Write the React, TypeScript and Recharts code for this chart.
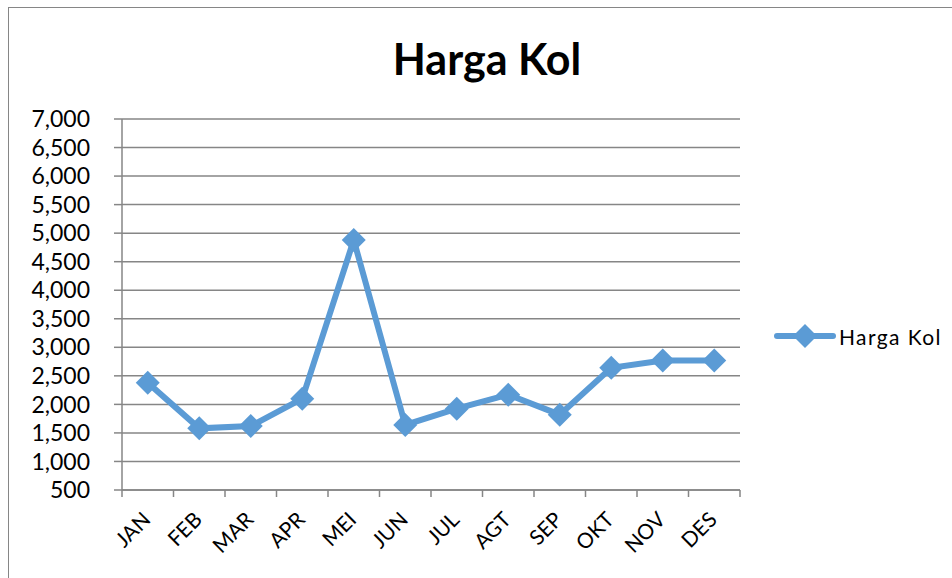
import { CartesianGrid, Line, LineChart, XAxis, YAxis } from 'recharts'

// Monthly cabbage prices (Rp/kg).
const MONTHS = ['JAN', 'FEB', 'MAR', 'APR', 'MEI', 'JUN', 'JUL', 'AGT', 'SEP', 'OKT', 'NOV', 'DES']
const HARGA_KOL = [2380, 1580, 1620, 2100, 4880, 1640, 1925, 2170, 1820, 2640, 2770, 2770]
const Y_TICKS = [500, 1000, 1500, 2000, 2500, 3000, 3500, 4000, 4500, 5000, 5500, 6000, 6500, 7000]

const BLUE = '#5B9BD5'
const GRID = '#868686'
const FONT = 'Lato, "Open Sans", sans-serif'

const W = 952
const H = 578
const PLOT = { left: 122, right: 740, top: 119, bottom: 490 }
// half a category step, so points sit in the middle of each band
const HALF_STEP = (PLOT.right - PLOT.left) / MONTHS.length / 2

const data = MONTHS.map((m, i) => ({ month: m, value: HARGA_KOL[i] }))

function Diamond(props: any) {
  const { cx, cy } = props
  if (cx == null || cy == null) return null
  const r = 12
  return <polygon points={`${cx},${cy - r} ${cx + r},${cy} ${cx},${cy + r} ${cx - r},${cy}`} fill={BLUE} />
}

// Excel puts the category tick marks between the bands, not under the labels.
function MonthTick({ x, y, payload, index }: any) {
  const last = index === MONTHS.length - 1
  return (
    <g>
      <line x1={x - HALF_STEP} x2={x - HALF_STEP} y1={y} y2={y + 7} stroke={GRID} strokeWidth={1.5} />
      {last && <line x1={x + HALF_STEP} x2={x + HALF_STEP} y1={y} y2={y + 7} stroke={GRID} strokeWidth={1.5} />}
      <text
        x={x + 4}
        y={y + 31}
        transform={`rotate(-45, ${x + 4}, ${y + 31})`}
        textAnchor="end"
        fontSize={21}
        fontFamily={FONT}
        fill="#000"
      >
        {payload.value}
      </text>
    </g>
  )
}

function LegendBox() {
  return (
    <div style={{ display: 'flex', alignItems: 'center', fontFamily: FONT, fontSize: 21, letterSpacing: 1.4, color: '#000' }}>
      <svg width={62} height={26}>
        <line x1={3} y1={13} x2={59} y2={13} stroke={BLUE} strokeWidth={6} strokeLinecap="round" />
        <Diamond cx={31} cy={13} />
      </svg>
      <span style={{ marginLeft: 3 }}>Harga Kol</span>
    </div>
  )
}

export default function App() {
  return (
    <div style={{ position: 'absolute', left: 0, top: 0, width: W, height: H, background: '#fff', overflow: 'hidden' }}>
      {/* chart frame, cut off at the right and bottom like the original screenshot */}
      <div style={{ position: 'absolute', left: 8, top: 7, width: W + 20, height: H + 20, border: `1.5px solid ${GRID}` }} />
      <div
        style={{
          position: 'absolute', left: 0, width: 974, top: 33, textAlign: 'center',
          fontFamily: FONT, fontWeight: 700, fontSize: 43, color: '#000',
        }}
      >
        Harga Kol
      </div>
      <div style={{ position: 'absolute', left: 0, top: 0 }}>
        <LineChart
          width={W}
          height={H}
          data={data}
          margin={{ top: PLOT.top, right: W - PLOT.right, bottom: 0, left: 0 }}
        >
          <CartesianGrid horizontal vertical={false} stroke={GRID} strokeWidth={1.5} />
          <XAxis
            dataKey="month"
            height={H - PLOT.bottom}
            padding={{ left: HALF_STEP, right: HALF_STEP }}
            interval={0}
            axisLine={{ stroke: GRID, strokeWidth: 1.5 }}
            tickLine={false}
            tickSize={0}
            tickMargin={0}
            tick={<MonthTick />}
          />
          <YAxis
            width={PLOT.left}
            domain={[500, 7000]}
            ticks={Y_TICKS}
            interval={0}
            tickFormatter={(v: number) => v.toLocaleString('en-US')}
            tickSize={8}
            tickMargin={24}
            axisLine={{ stroke: GRID, strokeWidth: 1.5 }}
            tickLine={{ stroke: GRID, strokeWidth: 1.5 }}
            tick={{ fill: '#000', fontSize: 23, fontFamily: FONT }}
          />
          <Line
            type="linear"
            dataKey="value"
            name="Harga Kol"
            stroke={BLUE}
            strokeWidth={6}
            dot={<Diamond />}
            activeDot={false}
            isAnimationActive={false}
          />
        </LineChart>
      </div>
      <div style={{ position: 'absolute', left: 774, top: 323 }}>
        <LegendBox />
      </div>
    </div>
  )
}
